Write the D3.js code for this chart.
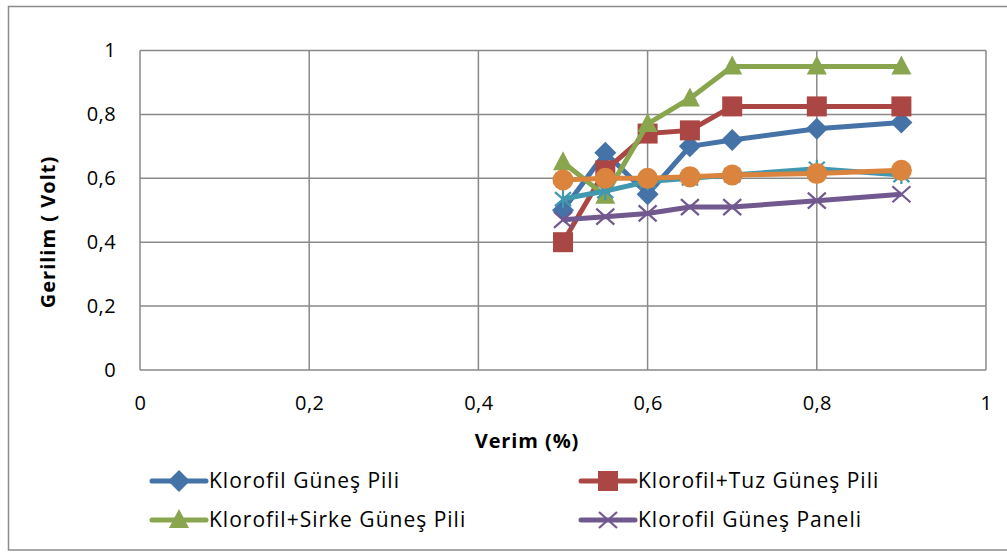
<!DOCTYPE html>
<html><head><meta charset="utf-8">
<script src="https://cdn.jsdelivr.net/npm/d3@7"></script>
<style>body{margin:0;background:#fff}svg{display:block}text{font-family:"Open Sans",sans-serif;font-variant-ligatures:none}</style>
</head><body>
<svg id="c" width="1007" height="552"></svg>
<script>
const xValues = [0.5, 0.55, 0.6, 0.65, 0.7, 0.8, 0.9];
const seriesNames = ["Klorofil Güneş Pili","Klorofil+Tuz Güneş Pili","Klorofil+Sirke Güneş Pili","Klorofil Güneş Paneli","Seri 5","Seri 6"];
const blueValues   = [0.50, 0.68, 0.55, 0.70, 0.72, 0.755, 0.775];
const redValues    = [0.40, 0.625, 0.74, 0.75, 0.825, 0.825, 0.825];
const greenValues  = [0.65, 0.545, 0.77, 0.85, 0.95, 0.95, 0.95];
const purpleValues = [0.47, 0.48, 0.49, 0.51, 0.51, 0.53, 0.55];
const cyanValues   = [0.535, 0.56, 0.59, 0.60, 0.61, 0.63, 0.61];
const orangeValues = [0.595, 0.60, 0.60, 0.605, 0.61, 0.615, 0.625];
const tickLabels = ["0","0,2","0,4","0,6","0,8","1"];
const tickValues = [0,0.2,0.4,0.6,0.8,1];

const colors = ["#4572A7","#AA4643","#89A54E","#71588F","#4198AF","#DB843D"];
const markers = ["diamond","square","triangle","x","star","circle"];
const allValues = [blueValues, redValues, greenValues, purpleValues, cyanValues, orangeValues];

const svg = d3.select("#c");
const L = 140, R = 986, T = 50.5, B = 370;
const x = d3.scaleLinear().domain([0,1]).range([L,R]);
const y = d3.scaleLinear().domain([0,1]).range([B,T]);

svg.append("rect").attr("x",8.5).attr("y",6.5).attr("width",1010).attr("height",543.5)
  .attr("fill","none").attr("stroke","#8c8c8c").attr("stroke-width",1.5);

const grid = "#898989";
svg.append("g").selectAll("line").data(tickValues).join("line")
  .attr("x1",d=>x(d)).attr("x2",d=>x(d)).attr("y1",T).attr("y2",B)
  .attr("stroke",grid).attr("stroke-width",1.5);
svg.append("g").selectAll("line").data(tickValues).join("line")
  .attr("y1",d=>y(d)).attr("y2",d=>y(d)).attr("x1",L).attr("x2",R)
  .attr("stroke",grid).attr("stroke-width",1.5);

const FS = 20;
const xAxis = svg.append("g").attr("transform",`translate(0,${B})`)
  .call(d3.axisBottom(x).tickValues(tickValues).tickFormat((d,i)=>tickLabels[i]).tickSize(0).tickPadding(26));
const yAxis = svg.append("g").attr("transform",`translate(${L},0)`)
  .call(d3.axisLeft(y).tickValues(tickValues).tickFormat((d,i)=>tickLabels[i]).tickSize(0).tickPadding(24));
[xAxis,yAxis].forEach(a=>{a.select(".domain").remove();a.selectAll("text").attr("font-size",FS).attr("fill","#000").attr("font-family","'Open Sans',sans-serif").attr("letter-spacing",0.4);});

svg.append("text").attr("x",527).attr("y",448).attr("text-anchor","middle")
  .attr("font-size",FS).attr("font-weight","bold").attr("letter-spacing",0.9).text("Verim (%)");
svg.append("text").attr("transform","translate(55,232) rotate(-90)").attr("text-anchor","middle")
  .attr("font-size",FS).attr("font-weight","bold").attr("letter-spacing",1).text("Gerilim ( Volt)");

function drawMarker(g, type, color, cx, cy){
  if(type==="diamond"){
    g.append("path").attr("d",`M${cx},${cy-11}L${cx+11},${cy}L${cx},${cy+11}L${cx-11},${cy}Z`).attr("fill",color);
  } else if(type==="square"){
    g.append("rect").attr("x",cx-10).attr("y",cy-10).attr("width",20).attr("height",20).attr("fill",color);
  } else if(type==="triangle"){
    g.append("path").attr("d",`M${cx},${cy-11}L${cx+10},${cy+8}L${cx-10},${cy+8}Z`).attr("fill",color);
  } else if(type==="circle"){
    g.append("circle").attr("cx",cx).attr("cy",cy).attr("r",10.5).attr("fill",color);
  } else if(type==="x"){
    g.append("path").attr("d",`M${cx-9},${cy-8}L${cx+9},${cy+8}M${cx-9},${cy+8}L${cx+9},${cy-8}`).attr("stroke",color).attr("stroke-width",2.2);
  } else if(type==="star"){
    g.append("path").attr("d",`M${cx-8},${cy-7}L${cx+8},${cy+7}M${cx-8},${cy+7}L${cx+8},${cy-7}M${cx},${cy-9}L${cx},${cy+9}`).attr("stroke",color).attr("stroke-width",2.2);
  }
}

const line = d3.line().x(d=>x(d[0])).y(d=>y(d[1]));
allValues.forEach((vals,i)=>{
  const g = svg.append("g");
  const pts = xValues.map((xv,j)=>[xv, vals[j]]);
  g.append("path").attr("d",line(pts)).attr("fill","none").attr("stroke",colors[i])
    .attr("stroke-width",5).attr("stroke-linejoin","round");
  pts.forEach(p=>drawMarker(g, markers[i], colors[i], x(p[0]), y(p[1])));
});

const legendItems = [
  {i:0, lx:152, ly:481},
  {i:1, lx:581, ly:481},
  {i:2, lx:152, ly:520},
  {i:3, lx:581, ly:520}
];
legendItems.forEach(it=>{
  const g = svg.append("g");
  g.append("line").attr("x1",it.lx).attr("x2",it.lx+54).attr("y1",it.ly).attr("y2",it.ly)
    .attr("stroke",colors[it.i]).attr("stroke-width",5).attr("stroke-linecap","round");
  drawMarker(g, markers[it.i], colors[it.i], it.lx+27, it.ly);
  g.append("text").attr("x",it.lx+57).attr("y",it.ly+7).attr("font-size",21).attr("letter-spacing",1).text(seriesNames[it.i]);
});
</script>
</body></html>
